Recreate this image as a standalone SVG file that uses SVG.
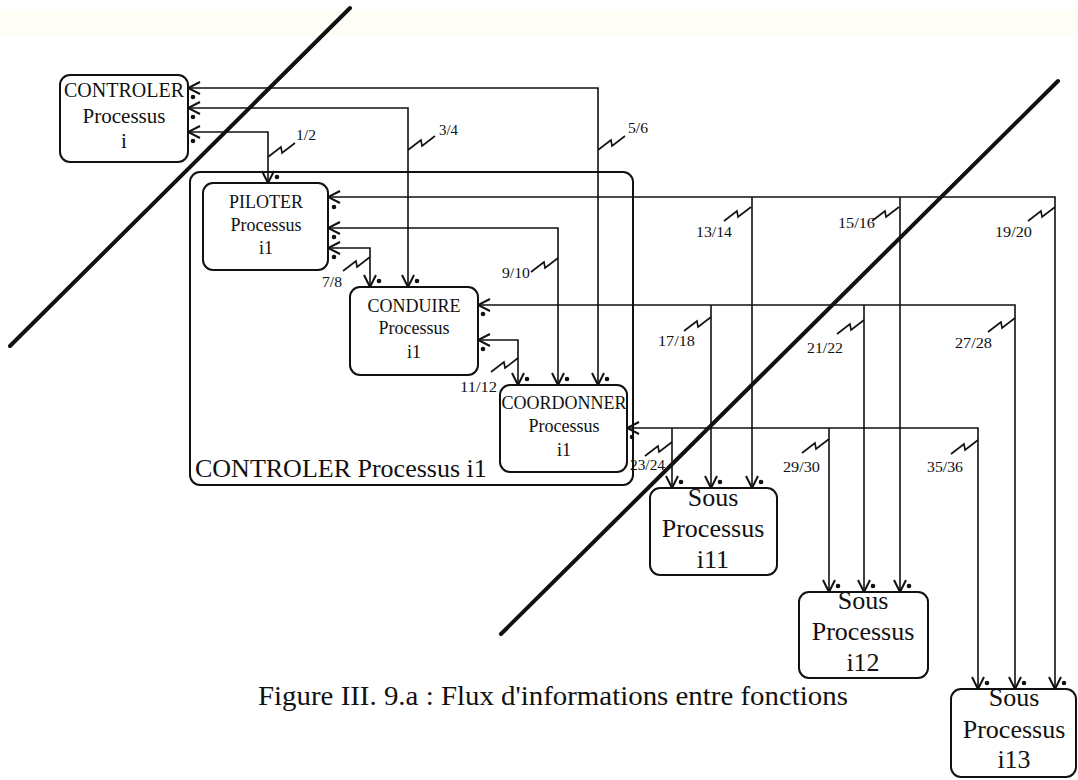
<svg xmlns="http://www.w3.org/2000/svg" width="1078" height="780" viewBox="0 0 1078 780">
<style>
.box{fill:#fff;stroke:#111;stroke-width:2}
.big{fill:none;stroke:#111;stroke-width:2}
.t{font-family:"Liberation Serif","Times New Roman",serif;fill:#111;text-anchor:middle}
.lbl{font-family:"Liberation Serif","Times New Roman",serif;fill:#111;font-size:15px}
.con{fill:none;stroke:#111;stroke-width:1.6}
.arr{marker-end:url(#ah)}
.arr2{marker-start:url(#ah);marker-end:url(#ah)}
.zz{fill:none;stroke:#111;stroke-width:1.6}
.dot{fill:#111}
.diag{stroke:#111;stroke-width:4;stroke-linecap:round}
</style>
<defs>
<marker id="ah" viewBox="-14 -8 16 16" refX="0" refY="0" markerWidth="16" markerHeight="16" orient="auto-start-reverse" markerUnits="userSpaceOnUse">
<path d="M-12,-6 L0,0 L-12,6" fill="none" stroke="#111" stroke-width="2"/>
</marker>
</defs>
<rect x="0" y="0" width="1078" height="780" fill="#fff"/>
<rect x="0" y="10" width="1078" height="26" fill="#fffef6"/>

<g id="connectors">
<path class="con arr2" d="M188 132 H268 V183"/>
<path class="con arr2" d="M188 108 H408 V287"/>
<path class="con arr2" d="M188 88 H598 V385"/>
<path class="con arr2" d="M328 197 H1055 V689"/>
<path class="con arr" d="M752 197 V488"/>
<path class="con arr" d="M900 197 V592"/>
<path class="con arr2" d="M328 228 H558 V385"/>
<path class="con arr2" d="M328 248 H370 V287"/>
<path class="con arr2" d="M478 305 H1015 V689"/>
<path class="con arr" d="M711 305 V488"/>
<path class="con arr" d="M864 305 V592"/>
<path class="con arr2" d="M478 340 H518 V385"/>
<path class="con arr2" d="M627 428 H978 V689"/>
<path class="con arr" d="M672 428 V488"/>
<path class="con arr" d="M829 428 V592"/>

<g id="zigzags">
<path class="zz" d="M268 157 l13 -10 l1 6 l13 -10"/>
<path class="zz" d="M408 150 l13 -10 l1 6 l13 -10"/>
<path class="zz" d="M598 150 l13 -10 l1 6 l13 -10"/>
<path class="zz" d="M343 271 l13 -10 l1 6 l13 -10"/>
<path class="zz" d="M531 272 l13 -10 l1 6 l13 -10"/>
<path class="zz" d="M491 372 l13 -10 l1 6 l13 -10"/>
<path class="zz" d="M724 221 l13 -10 l1 6 l13 -10"/>
<path class="zz" d="M872 221 l13 -10 l1 6 l13 -10"/>
<path class="zz" d="M1028 221 l13 -10 l1 6 l13 -10"/>
<path class="zz" d="M684 331 l13 -10 l1 6 l13 -10"/>
<path class="zz" d="M837 334 l13 -10 l1 6 l13 -10"/>
<path class="zz" d="M988 332 l13 -10 l1 6 l13 -10"/>
<path class="zz" d="M645 456 l13 -10 l1 6 l13 -10"/>
<path class="zz" d="M802 453 l13 -10 l1 6 l13 -10"/>
<path class="zz" d="M951 454 l13 -10 l1 6 l13 -10"/>
</g>

<g id="dots">
<circle class="dot" cx="193" cy="97" r="2.3"/>
<circle class="dot" cx="193" cy="117" r="2.3"/>
<circle class="dot" cx="193" cy="141" r="2.3"/>
<circle class="dot" cx="334" cy="207" r="2.3"/>
<circle class="dot" cx="334" cy="237" r="2.3"/>
<circle class="dot" cx="334" cy="257" r="2.3"/>
<circle class="dot" cx="483" cy="314" r="2.3"/>
<circle class="dot" cx="483" cy="349" r="2.3"/>
<circle class="dot" cx="632" cy="437" r="2.3"/>
<circle class="dot" cx="277" cy="177" r="2.3"/>
<circle class="dot" cx="379" cy="281" r="2.3"/>
<circle class="dot" cx="417" cy="281" r="2.3"/>
<circle class="dot" cx="527" cy="379" r="2.3"/>
<circle class="dot" cx="567" cy="379" r="2.3"/>
<circle class="dot" cx="607" cy="379" r="2.3"/>
<circle class="dot" cx="681" cy="482" r="2.3"/>
<circle class="dot" cx="720" cy="482" r="2.3"/>
<circle class="dot" cx="761" cy="482" r="2.3"/>
<circle class="dot" cx="838" cy="586" r="2.3"/>
<circle class="dot" cx="873" cy="586" r="2.3"/>
<circle class="dot" cx="909" cy="586" r="2.3"/>
<circle class="dot" cx="987" cy="683" r="2.3"/>
<circle class="dot" cx="1024" cy="683" r="2.3"/>
<circle class="dot" cx="1064" cy="683" r="2.3"/>
</g>

<g id="flow-labels">
<text class="lbl" x="296" y="140" textLength="20" lengthAdjust="spacingAndGlyphs">1/2</text>
<text class="lbl" x="439" y="135" textLength="19" lengthAdjust="spacingAndGlyphs">3/4</text>
<text class="lbl" x="628" y="133" textLength="20" lengthAdjust="spacingAndGlyphs">5/6</text>
<text class="lbl" x="322" y="287" textLength="20" lengthAdjust="spacingAndGlyphs">7/8</text>
<text class="lbl" x="502" y="278" textLength="28" lengthAdjust="spacingAndGlyphs">9/10</text>
<text class="lbl" x="460" y="392" textLength="37" lengthAdjust="spacingAndGlyphs">11/12</text>
<text class="lbl" x="696" y="237" textLength="36" lengthAdjust="spacingAndGlyphs">13/14</text>
<text class="lbl" x="838" y="228" textLength="37" lengthAdjust="spacingAndGlyphs">15/16</text>
<text class="lbl" x="995" y="237" textLength="37" lengthAdjust="spacingAndGlyphs">19/20</text>
<text class="lbl" x="658" y="346" textLength="37" lengthAdjust="spacingAndGlyphs">17/18</text>
<text class="lbl" x="807" y="353" textLength="36" lengthAdjust="spacingAndGlyphs">21/22</text>
<text class="lbl" x="955" y="348" textLength="37" lengthAdjust="spacingAndGlyphs">27/28</text>
<text class="lbl" x="630" y="470" textLength="35" lengthAdjust="spacingAndGlyphs">23/24</text>
<text class="lbl" x="783" y="472" textLength="37" lengthAdjust="spacingAndGlyphs">29/30</text>
<text class="lbl" x="927" y="472" textLength="36" lengthAdjust="spacingAndGlyphs">35/36</text>
</g>
</g>

<g id="controler-i1">
<rect class="big" x="190" y="172" width="443" height="313" rx="10"/>
<text class="t" x="195" y="477" font-size="26" style="text-anchor:start">CONTROLER Processus i1</text>
</g>

<g id="controler-i">
<rect class="box" x="60" y="75" width="128" height="87" rx="10"/>
<text class="t" x="124" y="97" font-size="20">CONTROLER</text>
<text class="t" x="124" y="123" font-size="21">Processus</text>
<text class="t" x="124" y="148" font-size="21">i</text>
</g>

<g id="piloter">
<rect class="box" x="203" y="183" width="125" height="87" rx="10"/>
<text class="t" x="266" y="208" font-size="18">PILOTER</text>
<text class="t" x="266" y="231" font-size="18">Processus</text>
<text class="t" x="266" y="254" font-size="18">i1</text>
</g>

<g id="conduire">
<rect class="box" x="350" y="287" width="128" height="88" rx="10"/>
<text class="t" x="414" y="312" font-size="18">CONDUIRE</text>
<text class="t" x="414" y="334" font-size="18">Processus</text>
<text class="t" x="414" y="358" font-size="18">i1</text>
</g>

<g id="coordonner">
<rect class="box" x="500" y="385" width="127" height="87" rx="10"/>
<text class="t" x="564" y="409" font-size="18">COORDONNER</text>
<text class="t" x="564" y="432" font-size="18">Processus</text>
<text class="t" x="564" y="456" font-size="18">i1</text>
</g>

<g id="sous-i11">
<rect class="box" x="650" y="488" width="127" height="87" rx="10"/>
<text class="t" x="713" y="506" font-size="26">Sous</text>
<text class="t" x="713" y="537" font-size="26">Processus</text>
<text class="t" x="713" y="568" font-size="26">i11</text>
</g>

<g id="sous-i12">
<rect class="box" x="799" y="592" width="129" height="86" rx="10"/>
<text class="t" x="863" y="609" font-size="26">Sous</text>
<text class="t" x="863" y="640" font-size="26">Processus</text>
<text class="t" x="863" y="671" font-size="26">i12</text>
</g>

<g id="sous-i13">
<rect class="box" x="951" y="689" width="125" height="88" rx="10"/>
<text class="t" x="1014" y="706" font-size="26">Sous</text>
<text class="t" x="1014" y="738" font-size="26">Processus</text>
<text class="t" x="1014" y="768" font-size="26">i13</text>
</g>

<g id="boundaries">
<line class="diag" x1="350" y1="8" x2="10" y2="346"/>
<line class="diag" x1="1058" y1="81" x2="501" y2="634"/>
</g>

<text class="t" x="258" y="705" font-size="27" textLength="590" lengthAdjust="spacingAndGlyphs" style="text-anchor:start">Figure III. 9.a : Flux d'informations entre fonctions</text>
</svg>
